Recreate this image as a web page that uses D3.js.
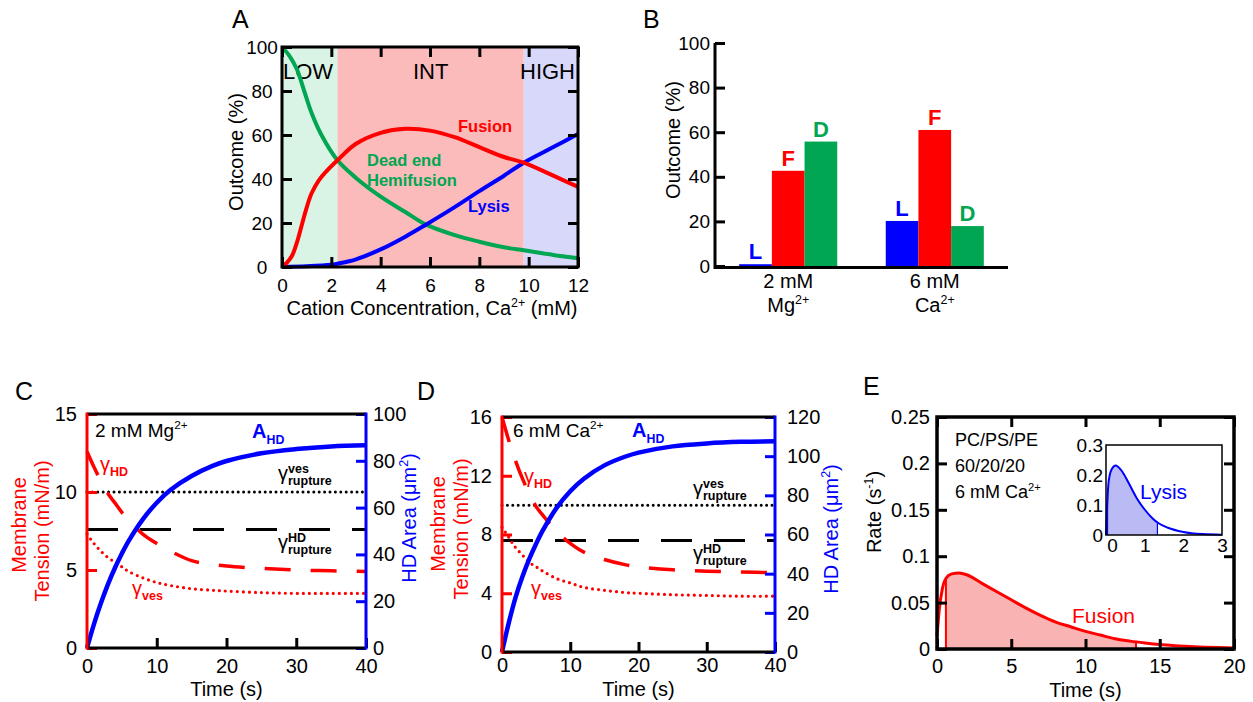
<!DOCTYPE html>
<html>
<head>
<meta charset="utf-8">
<script src="https://cdn.jsdelivr.net/npm/d3@7"></script>
<style>
  body { margin: 0; background: #fff; }
  svg text { font-family: "Liberation Sans", Arial, sans-serif; }
</style>
</head>
<body>
<svg width="1253" height="702"></svg>
<script>
// ---- Panel A: outcome vs cation concentration ----
const concFusA  = [0, 0.2, 0.4, 0.6, 0.8, 1.0, 1.2, 1.5, 1.8, 2.25, 3, 4, 5, 6, 7, 8, 9, 9.8, 11, 12];
const fusionA   = [0, 2, 5, 11, 19, 27, 33.5, 39.5, 43.5, 48.5, 56, 61, 62.8, 62, 59, 54.5, 50, 47.4, 41.5, 36.4];
const concDeadA = [0, 0.3, 0.6, 0.9, 1.2, 1.6, 2.25, 3, 4, 5, 5.8, 7, 8, 9, 9.8, 11, 12];
const deadEndA  = [100, 96, 90, 80, 70, 60, 48.5, 40.5, 32, 25, 19.5, 14.5, 11.5, 9, 7.6, 5.5, 4];
const concLysA  = [0, 1, 2, 2.25, 3, 4, 5, 5.8, 7, 8, 9, 9.8, 11, 12];
const lysisA    = [0, 0.3, 1, 1.5, 3.5, 8, 13.8, 19, 27.2, 34.5, 41.5, 47.4, 54.5, 60.5];
const regionEdgesA = [0, 2.25, 9.8, 12];
const regionNamesA = ["LOW", "INT", "HIGH"];
const xTicksA = [0, 2, 4, 6, 8, 10, 12];
const yTicksA = [0, 20, 40, 60, 80, 100];

// ---- Panel B: outcome bars ----
const groupsB   = ["2 mM", "6 mM"];
const ionsB     = ["Mg", "Ca"];
const outcomesB = ["L", "F", "D"];
const lysisB    = [0.8, 20.2];
const fusionB   = [42.7, 61];
const deadB     = [55.8, 17.9];
const yTicksB   = [0, 20, 40, 60, 80, 100];

// ---- Panel C: 2 mM Mg ----
const timeC     = [0, 1, 2, 3, 4, 5, 6, 8, 10, 12, 15, 18, 20, 25, 30, 35, 40];
const areaC     = [0, 10.2, 19.2, 27.2, 34.2, 40.4, 45.9, 55, 62.1, 67.6, 73.5, 77.8, 79.9, 83.2, 85, 86.1, 86.6];
const gammaHDC  = [12.6, 11.6, 10.7, 9.9, 9.3, 8.7, 8.2, 7.3, 6.7, 6.2, 5.6, 5.35, 5.25, 5.1, 5.0, 4.95, 4.9];
const gammaVesC = [7.3, 6.7, 6.2, 5.8, 5.5, 5.2, 4.9, 4.5, 4.2, 4.0, 3.8, 3.7, 3.65, 3.55, 3.5, 3.5, 3.5];
const ruptVesC  = 10;
const ruptHDC   = 7.6;
const leftTicksC  = [0, 5, 10, 15];
const rightTicksC = [0, 20, 40, 60, 80, 100];

// ---- Panel D: 6 mM Ca ----
const timeD     = [0, 1, 2, 3, 4, 5, 6, 8, 10, 12, 15, 18, 20, 25, 30, 35, 40];
const areaD     = [0, 15, 28, 38.5, 47.5, 55.3, 62.2, 73.6, 82.1, 88.5, 95.3, 99.7, 101.8, 105, 106.5, 107.3, 107.6];
const gammaHDD  = [16, 14.4, 13.0, 11.8, 10.8, 9.9, 9.3, 8.2, 7.4, 6.8, 6.3, 5.95, 5.8, 5.6, 5.5, 5.45, 5.4];
const gammaVesD = [8.5, 7.8, 7.1, 6.6, 6.1, 5.8, 5.5, 5.0, 4.7, 4.4, 4.2, 4.05, 4.0, 3.9, 3.85, 3.8, 3.8];
const ruptVesD  = 10;
const ruptHDD   = 7.6;
const leftTicksD  = [0, 4, 8, 12, 16];
const rightTicksD = [0, 20, 40, 60, 80, 100, 120];
const timeTicks   = [0, 10, 20, 30, 40];

// ---- Panel E: fusion / lysis rate ----
const timeE  = [0, 0.15, 0.35, 0.6, 1.0, 1.5, 2, 3, 4, 5, 6, 7, 8, 9, 10, 11, 12, 13, 14, 15, 16, 17, 18, 19, 20];
const rateE  = [0.014, 0.042, 0.064, 0.076, 0.081, 0.082, 0.080, 0.071, 0.062, 0.053, 0.044, 0.036, 0.029, 0.024, 0.019, 0.015, 0.011, 0.0085, 0.0065, 0.0048, 0.0036, 0.0027, 0.002, 0.0015, 0.0012];
const shadeE = [0.6, 13.4];
const xTicksE = [0, 5, 10, 15, 20];
const yTicksE = [0, 0.05, 0.1, 0.15, 0.2, 0.25];
const timeLys = [0, 0.03, 0.07, 0.15, 0.25, 0.4, 0.6, 0.8, 1.0, 1.2, 1.35, 1.6, 2.0, 2.5, 3.0];
const rateLys = [0, 0.1, 0.18, 0.22, 0.232, 0.215, 0.17, 0.122, 0.085, 0.056, 0.04, 0.024, 0.01, 0.003, 0.001];
const shadeLys = [0.04, 1.33];
const xTicksLys = [0, 1, 2, 3];
const yTicksLys = [0, 0.1, 0.2, 0.3];

var RED = "#ff0000", BLUE = "#0000ff", GREEN = "#00a651";
var FONT = '"Liberation Sans", Arial, sans-serif';
var SMOOTH = d3.curveCatmullRom.alpha(0.5);
var svg = d3.select("svg");
var defs = svg.append("defs");

// text with super/subscript parts: [text, "sup"|"sub"|null, bold]
function rich(g, x, y, parts, size, fill, anchor, weight) {
  var t = g.append("text").attr("x", x).attr("y", y)
    .attr("font-size", size).attr("fill", fill || "#000")
    .attr("text-anchor", anchor || "start");
  if (weight) t.attr("font-weight", weight);
  var shift = 0;
  parts.forEach(function (p) {
    var s = t.append("tspan").text(p[0]);
    var target = p[1] == "sup" ? -0.4 * size : p[1] == "sub" ? 0.3 * size : 0;
    if (target != shift) s.attr("dy", target - shift);
    shift = target;
    if (p[1]) s.attr("font-size", size * 0.62);
    if (p[2]) s.attr("font-weight", "bold");
  });
  return t;
}
function vText(x, y, parts, size, fill) {
  var gg = svg.append("g").attr("transform", "translate(" + x + "," + y + ") rotate(-90)");
  return rich(gg, 0, 0, parts, size, fill, "middle");
}
function styleAxis(ax, size, color, textColor, width) {
  ax.attr("font-size", size).attr("font-family", FONT).attr("color", color);
  ax.select(".domain").remove();
  ax.selectAll("line").attr("stroke-width", width || 3);
  ax.selectAll("text").attr("fill", textColor || "#000");
  return ax;
}
function gamma(g, x, y, color, sub, sup) {
  g.append("text").attr("x", x).attr("y", y).attr("font-size", 20).attr("fill", color).text("γ");
  if (sup) g.append("text").attr("x", x + 10).attr("y", y - 7).attr("font-size", 12.5)
    .attr("font-weight", "bold").attr("fill", color).text(sup);
  g.append("text").attr("x", x + 10).attr("y", y + 5).attr("font-size", 12.5)
    .attr("font-weight", "bold").attr("fill", color).text(sub);
}
function letter(x, y, s) {
  svg.append("text").attr("x", x).attr("y", y).attr("font-size", 25).text(s);
}

// ================= Panel A =================
(function () {
  var A = { l: 282, r: 578, t: 47, b: 267 };
  var x = d3.scaleLinear().domain([0, 12]).range([A.l, A.r]);
  var y = d3.scaleLinear().domain([0, 100]).range([A.b, A.t]);
  var g = svg.append("g");
  var fills = ["#d9f3e5", "#fbbbbb", "#d8d8fb"];
  g.selectAll("rect.reg").data(regionNamesA).join("rect")
    .attr("x", (d, i) => x(regionEdgesA[i]))
    .attr("width", (d, i) => x(regionEdgesA[i + 1]) - x(regionEdgesA[i]))
    .attr("y", A.t).attr("height", A.b - A.t)
    .attr("fill", (d, i) => fills[i]);
  g.selectAll("text.reg").data(regionNamesA).join("text")
    .attr("x", (d, i) => i == 0 ? x(regionEdgesA[0]) + 1 : i == 1 ? (x(regionEdgesA[1]) + x(regionEdgesA[2])) / 2 : x(regionEdgesA[3]) - 3)
    .attr("text-anchor", (d, i) => ["start", "middle", "end"][i])
    .attr("y", 79).attr("font-size", 22).text(d => d);

  var line = d3.line().x(d => x(d[0])).y(d => y(d[1])).curve(SMOOTH);
  [[concDeadA, deadEndA, GREEN], [concLysA, lysisA, BLUE], [concFusA, fusionA, RED]].forEach(function (s) {
    g.append("path").datum(d3.zip(s[0], s[1])).attr("d", line)
      .attr("fill", "none").attr("stroke", s[2]).attr("stroke-width", 4);
  });

  var ax = g.append("g").attr("transform", "translate(" + A.l + ",0)")
    .call(d3.axisLeft(y).tickValues(yTicksA).tickSize(-10).tickPadding(20));
  styleAxis(ax, 19, "#000").selectAll("text").attr("text-anchor", "middle");
  styleAxis(g.append("g").attr("transform", "translate(" + A.r + ",0)")
    .call(d3.axisRight(y).tickValues(yTicksA).tickSize(-10).tickFormat("")), 19, "#000");
  styleAxis(g.append("g").attr("transform", "translate(0," + A.b + ")")
    .call(d3.axisBottom(x).tickValues(xTicksA).tickSize(-10).tickPadding(12)), 19, "#000");
  styleAxis(g.append("g").attr("transform", "translate(0," + A.t + ")")
    .call(d3.axisTop(x).tickValues(xTicksA).tickSize(-10).tickFormat("")), 19, "#000");
  g.append("rect").attr("x", A.l).attr("y", A.t).attr("width", A.r - A.l).attr("height", A.b - A.t)
    .attr("fill", "none").attr("stroke", "#000").attr("stroke-width", 3);

  g.append("text").attr("x", 458).attr("y", 132).attr("font-size", 16.5).attr("font-weight", "bold").attr("fill", RED).text("Fusion");
  g.append("text").attr("x", 367).attr("y", 166).attr("font-size", 16.5).attr("font-weight", "bold").attr("fill", GREEN).text("Dead end");
  g.append("text").attr("x", 367).attr("y", 186).attr("font-size", 16.5).attr("font-weight", "bold").attr("fill", GREEN).text("Hemifusion");
  g.append("text").attr("x", 468).attr("y", 212).attr("font-size", 16.5).attr("font-weight", "bold").attr("fill", BLUE).text("Lysis");

  vText(243, 152, [["Outcome (%)"]], 20, "#000");
  rich(svg, (A.l + A.r) / 2 + 2, 315, [["Cation Concentration, Ca"], ["2+", "sup"], [" (mM)"]], 20, "#000", "middle");
  letter(232, 28, "A");
})();

// ================= Panel B =================
(function () {
  var B = { l: 715, r: 1008, t: 43, b: 266 };
  var y = d3.scaleLinear().domain([0, 100]).range([B.b, B.t]);
  var x0 = d3.scaleBand().domain(groupsB).range([B.l, B.r]).paddingInner(0.331).paddingOuter(0.165);
  var x1 = d3.scaleBand().domain(outcomesB).range([0, x0.bandwidth()]);
  var colors = { L: BLUE, F: RED, D: GREEN };
  var series = [lysisB, fusionB, deadB];
  var rows = [];
  groupsB.forEach(function (grp, gi) {
    outcomesB.forEach(function (oc, oi) { rows.push({ group: grp, key: oc, value: series[oi][gi] }); });
  });
  var g = svg.append("g");
  g.selectAll("rect.bar").data(rows).join("rect")
    .attr("x", d => x0(d.group) + x1(d.key)).attr("width", x1.bandwidth())
    .attr("y", d => y(d.value)).attr("height", d => y(0) - y(d.value))
    .attr("fill", d => colors[d.key]);
  g.selectAll("text.lab").data(rows).join("text")
    .attr("x", d => x0(d.group) + x1(d.key) + x1.bandwidth() / 2)
    .attr("y", d => y(d.value) - 5).attr("text-anchor", "middle")
    .attr("font-size", 22).attr("font-weight", "bold").attr("fill", d => colors[d.key]).text(d => d.key);

  styleAxis(g.append("g").attr("transform", "translate(" + B.l + ",0)")
    .call(d3.axisLeft(y).tickValues(yTicksB).tickSize(-10).tickPadding(5)), 19, "#000");
  g.append("line").attr("x1", B.l).attr("x2", B.l).attr("y1", B.t).attr("y2", B.b + 3).attr("stroke", "#000").attr("stroke-width", 3);
  g.append("line").attr("x1", B.l).attr("x2", B.r).attr("y1", B.b + 1.5).attr("y2", B.b + 1.5).attr("stroke", "#000").attr("stroke-width", 3);
  groupsB.forEach(function (grp, gi) {
    var cx = x0(grp) + x0.bandwidth() / 2;
    g.append("text").attr("x", cx).attr("y", 288).attr("text-anchor", "middle").attr("font-size", 20).text(grp);
    rich(g, cx, 312, [[ionsB[gi]], ["2+", "sup"]], 20, "#000", "middle");
  });
  vText(680, 140, [["Outcome (%)"]], 20, "#000");
  letter(643, 28, "B");
})();

// ================= Panels C and D =================
function tensionPanel(o) {
  var x = d3.scaleLinear().domain([0, 40]).range([o.l, o.r]);
  var yL = d3.scaleLinear().domain([0, o.leftMax]).range([o.b, o.t]);
  var yR = d3.scaleLinear().domain([0, o.rightMax]).range([o.b, o.t]);
  var g = svg.append("g");

  g.append("line").attr("x1", o.l).attr("x2", o.r).attr("y1", yL(o.ruptVes)).attr("y2", yL(o.ruptVes))
    .attr("stroke", "#000").attr("stroke-width", 3).attr("stroke-linecap", "round").attr("stroke-dasharray", "0 5.4");
  g.append("line").attr("x1", o.l).attr("x2", o.r).attr("y1", yL(o.ruptHD)).attr("y2", yL(o.ruptHD))
    .attr("stroke", "#000").attr("stroke-width", 3).attr("stroke-dasharray", "31 22");

  var lineL = d3.line().x(d => x(d[0])).y(d => yL(d[1])).curve(SMOOTH);
  var lineR = d3.line().x(d => x(d[0])).y(d => yR(d[1])).curve(SMOOTH);
  g.append("path").datum(d3.zip(o.time, o.gHD)).attr("d", lineL).attr("fill", "none")
    .attr("stroke", RED).attr("stroke-width", 3.5).attr("stroke-dasharray", "26 20");
  g.append("path").datum(d3.zip(o.time, o.gVes)).attr("d", lineL).attr("fill", "none")
    .attr("stroke", RED).attr("stroke-width", 3.2).attr("stroke-linecap", "round").attr("stroke-dasharray", "0 6");
  g.append("path").datum(d3.zip(o.time, o.area)).attr("d", lineR).attr("fill", "none")
    .attr("stroke", BLUE).attr("stroke-width", 4.5);

  styleAxis(g.append("g").attr("transform", "translate(" + o.l + ",0)")
    .call(d3.axisLeft(yL).tickValues(o.leftTicks).tickSize(-10).tickPadding(o.padL)), 20, RED);
  styleAxis(g.append("g").attr("transform", "translate(" + o.r + ",0)")
    .call(d3.axisRight(yR).tickValues(o.rightTicks).tickSize(-10).tickPadding(o.padR)), 20, BLUE);
  styleAxis(g.append("g").attr("transform", "translate(0," + o.b + ")")
    .call(d3.axisBottom(x).tickValues(timeTicks).tickSize(-10).tickPadding(o.padB)), 20, "#000");

  g.append("line").attr("x1", o.l).attr("x2", o.r).attr("y1", o.t).attr("y2", o.t).attr("stroke", "#000").attr("stroke-width", 3);
  g.append("line").attr("x1", o.l).attr("x2", o.r).attr("y1", o.b).attr("y2", o.b).attr("stroke", "#000").attr("stroke-width", 3);
  g.append("line").attr("x1", o.l).attr("x2", o.l).attr("y1", o.t - 1.5).attr("y2", o.b + 1.5).attr("stroke", RED).attr("stroke-width", 3);
  g.append("line").attr("x1", o.r).attr("x2", o.r).attr("y1", o.t - 1.5).attr("y2", o.b + 1.5).attr("stroke", BLUE).attr("stroke-width", 3);

  rich(g, o.cond[0], o.cond[1], o.condText, 19, "#000");
  rich(g, o.aLab[0], o.aLab[1], [["A"], ["HD", "sub"]], 20, BLUE, "start", "bold");
  gamma(g, o.gHDLab[0], o.gHDLab[1], RED, "HD");
  gamma(g, o.gVesLab[0], o.gVesLab[1], RED, "ves");
  gamma(g, o.rVesLab[0], o.rVesLab[1], "#000", "rupture", "ves");
  gamma(g, o.rHDLab[0], o.rHDLab[1], "#000", "rupture", "HD");

  vText(o.titleL[0], o.titleL[1], [["Membrane"]], 20, RED);
  vText(o.titleL[2], o.titleL[3], [["Tension (mN/m)"]], 20, RED);
  vText(o.titleR[0], o.titleR[1], [["HD Area (μm"], ["2", "sup"], [")"]], 20, BLUE);
  g.append("text").attr("x", (o.l + o.r) / 2).attr("y", o.timeY).attr("text-anchor", "middle").attr("font-size", 20).text("Time (s)");
  letter(o.letter[0], o.letter[1], o.letter[2]);
}

tensionPanel({
  l: 87, r: 366, t: 414, b: 648, leftMax: 15, rightMax: 100,
  leftTicks: leftTicksC, rightTicks: rightTicksC, padL: 10, padR: 7, padB: 11,
  time: timeC, area: areaC, gHD: gammaHDC, gVes: gammaVesC, ruptVes: ruptVesC, ruptHD: ruptHDC,
  cond: [95, 437], condText: [["2 mM Mg"], ["2+", "sup"]],
  aLab: [252, 438], gHDLab: [100, 471], gVesLab: [132, 595], rVesLab: [278, 480], rHDLab: [278, 549],
  titleL: [26, 525, 49, 531], titleR: [416, 518], timeY: 696, letter: [15, 400, "C"]
});
tensionPanel({
  l: 502, r: 775, t: 417, b: 652, leftMax: 16, rightMax: 120,
  leftTicks: leftTicksD, rightTicks: rightTicksD, padL: 10, padR: 12, padB: 6,
  time: timeD, area: areaD, gHD: gammaHDD, gVes: gammaVesD, ruptVes: ruptVesD, ruptHD: ruptHDD,
  cond: [513, 437], condText: [["6 mM Ca"], ["2+", "sup"]],
  aLab: [632, 437], gHDLab: [524, 483], gVesLab: [531, 595], rVesLab: [693, 495], rHDLab: [693, 560],
  titleL: [445, 524, 468, 529], titleR: [838, 529], timeY: 696, letter: [417, 400, "D"]
});

// ================= Panel E =================
(function () {
  var E = { l: 937, r: 1234, t: 417, b: 649 };
  var x = d3.scaleLinear().domain([0, 20]).range([E.l, E.r]);
  var y = d3.scaleLinear().domain([0, 0.25]).range([E.b, E.t]);
  var g = svg.append("g");
  var data = d3.zip(timeE, rateE);
  var area = d3.area().x(d => x(d[0])).y0(E.b).y1(d => y(d[1])).curve(d3.curveMonotoneX);
  var line = d3.line().x(d => x(d[0])).y(d => y(d[1])).curve(d3.curveMonotoneX);

  defs.append("clipPath").attr("id", "spanE").append("rect")
    .attr("x", x(shadeE[0])).attr("width", x(shadeE[1]) - x(shadeE[0])).attr("y", E.t).attr("height", E.b - E.t);
  defs.append("clipPath").attr("id", "areaE").append("path").attr("d", area(data));
  g.append("path").attr("d", area(data)).attr("fill", "#f9b3b3").attr("clip-path", "url(#spanE)");
  g.selectAll("line.edge").data(shadeE).join("line")
    .attr("x1", d => x(d)).attr("x2", d => x(d)).attr("y1", E.t).attr("y2", E.b)
    .attr("stroke", RED).attr("stroke-width", 2).attr("clip-path", "url(#areaE)");
  g.append("path").datum(data).attr("d", line).attr("fill", "none").attr("stroke", RED).attr("stroke-width", 3);

  styleAxis(g.append("g").attr("transform", "translate(" + E.l + ",0)")
    .call(d3.axisLeft(y).tickValues(yTicksE).tickSize(-10).tickPadding(7).tickFormat(d3.format("~g"))), 20, "#000");
  styleAxis(g.append("g").attr("transform", "translate(" + E.r + ",0)")
    .call(d3.axisRight(y).tickValues(yTicksE).tickSize(-10).tickFormat("")), 20, "#000");
  styleAxis(g.append("g").attr("transform", "translate(0," + E.b + ")")
    .call(d3.axisBottom(x).tickValues(xTicksE).tickSize(-10).tickPadding(10)), 20, "#000");
  styleAxis(g.append("g").attr("transform", "translate(0," + E.t + ")")
    .call(d3.axisTop(x).tickValues(xTicksE).tickSize(-10).tickFormat("")), 20, "#000");
  g.append("rect").attr("x", E.l).attr("y", E.t).attr("width", E.r - E.l).attr("height", E.b - E.t)
    .attr("fill", "none").attr("stroke", "#000").attr("stroke-width", 3.5);

  g.append("text").attr("x", 955).attr("y", 446).attr("font-size", 18).text("PC/PS/PE");
  g.append("text").attr("x", 955).attr("y", 472).attr("font-size", 18).text("60/20/20");
  rich(g, 955, 498, [["6 mM Ca"], ["2+", "sup"]], 18, "#000");
  g.append("text").attr("x", 1072).attr("y", 623).attr("font-size", 21).attr("fill", RED).text("Fusion");

  // inset: lysis
  var I = { l: 1106, r: 1222, t: 445, b: 535 };
  var xi = d3.scaleLinear().domain([0, 3]).range([I.l, I.r]);
  var yi = d3.scaleLinear().domain([0, 0.3]).range([I.b, I.t]);
  var dl = d3.zip(timeLys, rateLys);
  var areaI = d3.area().x(d => xi(d[0])).y0(I.b).y1(d => yi(d[1])).curve(d3.curveMonotoneX);
  var lineI = d3.line().x(d => xi(d[0])).y(d => yi(d[1])).curve(d3.curveMonotoneX);
  g.append("rect").attr("x", I.l).attr("y", I.t).attr("width", I.r - I.l).attr("height", I.b - I.t).attr("fill", "#fff");
  defs.append("clipPath").attr("id", "spanI").append("rect")
    .attr("x", xi(shadeLys[0])).attr("width", xi(shadeLys[1]) - xi(shadeLys[0])).attr("y", I.t).attr("height", I.b - I.t);
  defs.append("clipPath").attr("id", "areaI").append("path").attr("d", areaI(dl));
  g.append("path").attr("d", areaI(dl)).attr("fill", "#babaf5").attr("clip-path", "url(#spanI)");
  g.selectAll("line.edgeI").data(shadeLys).join("line")
    .attr("x1", d => xi(d)).attr("x2", d => xi(d)).attr("y1", I.t).attr("y2", I.b)
    .attr("stroke", BLUE).attr("stroke-width", 1.2).attr("clip-path", "url(#areaI)");
  g.append("path").datum(dl).attr("d", lineI).attr("fill", "none").attr("stroke", BLUE).attr("stroke-width", 2);
  g.append("rect").attr("x", I.l).attr("y", I.t).attr("width", I.r - I.l).attr("height", I.b - I.t)
    .attr("fill", "none").attr("stroke", "#000").attr("stroke-width", 1.5);
  styleAxis(g.append("g").attr("transform", "translate(" + I.l + ",0)")
    .call(d3.axisLeft(yi).tickValues(yTicksLys).tickSize(0).tickPadding(3).tickFormat(d3.format("~g"))), 19, "#000");
  var axI = styleAxis(g.append("g").attr("transform", "translate(0," + I.b + ")")
    .call(d3.axisBottom(xi).tickValues(xTicksLys).tickSize(0).tickPadding(3).tickFormat(d3.format("~g"))), 19, "#000");
  axI.selectAll(".tick text").filter(d => d == 0).attr("dx", 6);
  g.append("text").attr("x", 1140).attr("y", 499).attr("font-size", 21).attr("fill", BLUE).text("Lysis");

  vText(881, 512, [["Rate (s"], ["-1", "sup"], [")"]], 20, "#000");
  g.append("text").attr("x", (E.l + E.r) / 2).attr("y", 697).attr("text-anchor", "middle").attr("font-size", 20).text("Time (s)");
  letter(863, 395, "E");
})();
</script>
</body>
</html>
